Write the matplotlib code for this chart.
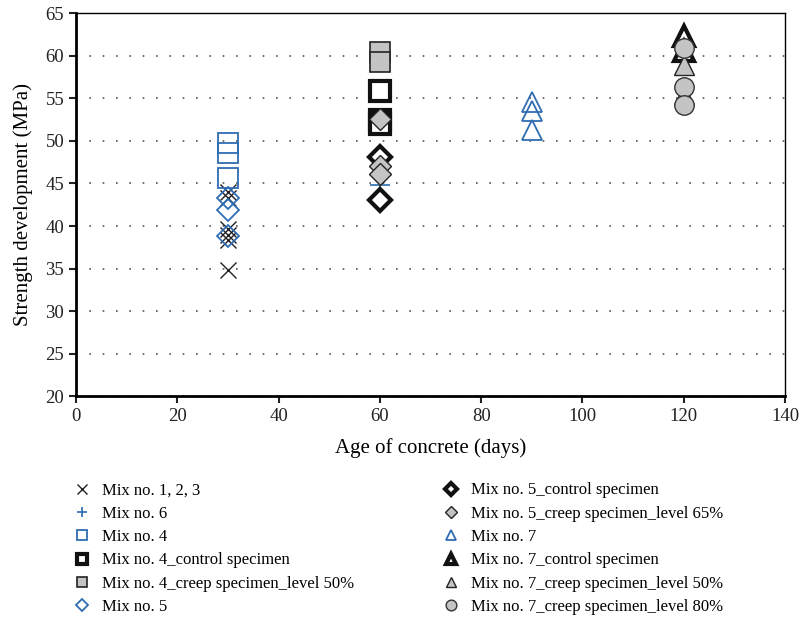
import matplotlib
matplotlib.use("Agg")
import matplotlib.pyplot as plt

plt.rcParams['font.family'] = ['Liberation Serif', 'DejaVu Serif']

# values (age in days, strength in MPa)
mix123_y = [44.0, 43.3, 39.6, 39.0, 38.4, 34.8]
mix6_y = [44.8]
mix4_y = [49.7, 48.6, 45.6]
mix4_ctrl_y = [55.85, 52.5, 52.0]
mix4_creep_y = [60.4, 59.2]
mix5_y = [43.3, 41.9, 38.8]
mix5_ctrl_y = [48.1, 43.05]
mix5_creep_y = [52.6, 47.1, 46.1]
mix7_y = [54.6, 53.5, 51.3]
mix7_ctrl_y = [62.3, 60.5]
mix7_creep50_y = [58.9, 55.4]
mix7_creep80_y = [60.9, 56.3, 54.2]

age_mix123 = 30
age_mix4 = 30
age_mix5 = 30
age_60 = 60
age_mix7 = 90
age_120 = 120

blue = '#2f6db3'
gray = '#c4c4c4'

fig = plt.figure(figsize=(8.01, 6.2), dpi=100)
ax = fig.add_axes([0.0949, 0.3605, 0.8851, 0.6185])

# dotted grid first so markers sit on top
ax.set_axisbelow(True)
ax.yaxis.grid(True, linestyle=(0, (1, 7)), color='#555555', linewidth=1.2)

ms = 14
series = [
    (age_mix123, mix123_y, dict(marker='x', ms=12, mfc='none', mec='#222222', mew=1.0), 'Mix no. 1, 2, 3'),
    (age_60, mix6_y, dict(marker='+', ms=14, mec=blue, mew=1.2), 'Mix no. 6'),
    (age_mix4, mix4_y, dict(marker='s', ms=ms, mfc='none', mec=blue, mew=1.3), 'Mix no. 4'),
    (age_60, mix4_ctrl_y, dict(marker='s', ms=ms, mfc='white', mec='#111111', mew=3.0), 'Mix no. 4_control specimen'),
    (age_60, mix4_creep_y, dict(marker='s', ms=ms, mfc=gray, mec='#222222', mew=1.2), 'Mix no. 4_creep specimen_level 50%'),
    (age_mix5, mix5_y, dict(marker='D', ms=11, mfc='none', mec=blue, mew=1.3), 'Mix no. 5'),
    (age_60, mix5_ctrl_y, dict(marker='D', ms=11, mfc='white', mec='#111111', mew=3.0), 'Mix no. 5_control specimen'),
    (age_60, mix5_creep_y, dict(marker='D', ms=11, mfc=gray, mec='#222222', mew=1.0), 'Mix no. 5_creep specimen_level 65%'),
    (age_mix7, mix7_y, dict(marker='^', ms=14, mfc='none', mec=blue, mew=1.3), 'Mix no. 7'),
    (age_120, mix7_ctrl_y, dict(marker='^', ms=14, mfc='white', mec='#111111', mew=3.0), 'Mix no. 7_control specimen'),
    (age_120, mix7_creep50_y, dict(marker='^', ms=14, mfc=gray, mec='#222222', mew=1.0), 'Mix no. 7_creep specimen_level 50%'),
    (age_120, mix7_creep80_y, dict(marker='o', ms=14, mfc=gray, mec='#333333', mew=1.0), 'Mix no. 7_creep specimen_level 80%'),
]

handles = []
for x, ys, style, label in series:
    h, = ax.plot([x] * len(ys), ys, linestyle='none', label=label, **style)
    handles.append(h)

ax.set_xlim(0, 140)
ax.set_ylim(20, 65)
ax.set_xticks(range(0, 141, 20))
ax.set_yticks(range(20, 66, 5))
ax.tick_params(direction='out', length=5, width=1.5, labelsize=13.5, colors='#222222')
for side in ['left', 'bottom']:
    ax.spines[side].set_linewidth(2.0)
for side in ['top', 'right']:
    ax.spines[side].set_linewidth(1.0)

ax.set_xlabel('Age of concrete (days)', fontsize=15, labelpad=9)
ax.set_ylabel('Strength development (MPa)', fontsize=15, labelpad=9)

fig.legend(handles=handles, loc='upper left', bbox_to_anchor=(0.073, 0.246),
           ncol=2, frameon=False, fontsize=12, markerscale=0.55,
           handlelength=1.0, handletextpad=0.7, columnspacing=5.35,
           labelspacing=0.44)

fig.savefig('out.png', dpi=100)
